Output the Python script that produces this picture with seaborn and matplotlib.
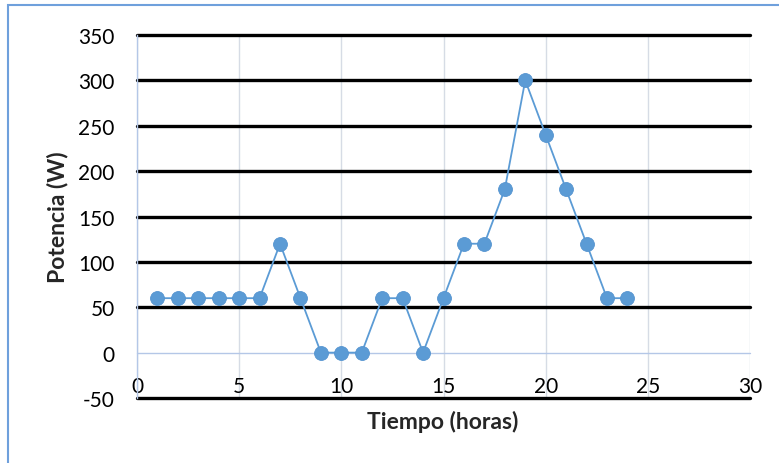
import matplotlib
matplotlib.use("Agg")
import matplotlib.pyplot as plt
import pandas as pd
import seaborn as sns
from matplotlib.patches import Rectangle

# hourly power profile
horas = [1, 2, 3, 4, 5, 6, 7, 8, 9, 10, 11, 12,
         13, 14, 15, 16, 17, 18, 19, 20, 21, 22, 23, 24]
potencia = [60, 60, 60, 60, 60, 60, 120, 60, 0, 0, 0, 60,
            60, 0, 60, 120, 120, 180, 300, 240, 180, 120, 60, 60]
x_ticks = [0, 5, 10, 15, 20, 25, 30]
y_ticks = [-50, 0, 50, 100, 150, 200, 250, 300, 350]

df = pd.DataFrame({"Tiempo": horas, "Potencia": potencia})

sns.set_theme(style="white")
plt.rcParams["font.family"] = ["Lato", "DejaVu Sans"]
plt.rcParams["axes.unicode_minus"] = False

fig = plt.figure(figsize=(7.79, 4.64), dpi=100)
ax = fig.add_axes([137 / 779, 1 - 399 / 464, 613 / 779, 363 / 464])

blue = "#5b9bd5"
sns.lineplot(data=df, x="Tiempo", y="Potencia", color=blue, linewidth=1.3,
             marker="o", markersize=10, markerfacecolor=blue,
             markeredgecolor="#5594d0", markeredgewidth=0.6, ax=ax, zorder=5)

ax.set_xlim(0, 30)
ax.set_ylim(-50, 350)
ax.set_xticks(x_ticks)
ax.set_yticks(y_ticks)

# excel-like gridlines: heavy black horizontals, faint verticals
ax.grid(axis="y", color="black", linewidth=2.4)
ax.grid(axis="x", color="#d6dce5", linewidth=1.0)
for val, line in zip(y_ticks, ax.yaxis.get_gridlines()):
    line.set_clip_on(False)
    if val == 0:
        line.set_color("#b4c7e7")
        line.set_linewidth(1.0)

for side in ["top", "right", "bottom"]:
    ax.spines[side].set_visible(False)
ax.spines["left"].set_color("#b4c7e7")
ax.spines["left"].set_linewidth(1.0)

ax.tick_params(axis="y", length=0, pad=16, labelsize=15, labelcolor="black")
ax.tick_params(axis="x", length=0, pad=-16, labelsize=15, labelcolor="black")

ax.set_xlabel("Tiempo (horas)", fontsize=16.5, fontweight="bold")
ax.set_ylabel("Potencia (W)", fontsize=16.5, fontweight="bold")
ax.xaxis.set_label_coords(0.499, -0.033)
ax.yaxis.set_label_coords(-0.112, 0.5)

# chart border
fig.patches.append(Rectangle((8 / 779, -0.1), 1.2, 1.1 - 6 / 464,
                             transform=fig.transFigure, fill=False,
                             edgecolor="#6fa0dc", linewidth=1.5))

fig.savefig("out.png", dpi=100)
